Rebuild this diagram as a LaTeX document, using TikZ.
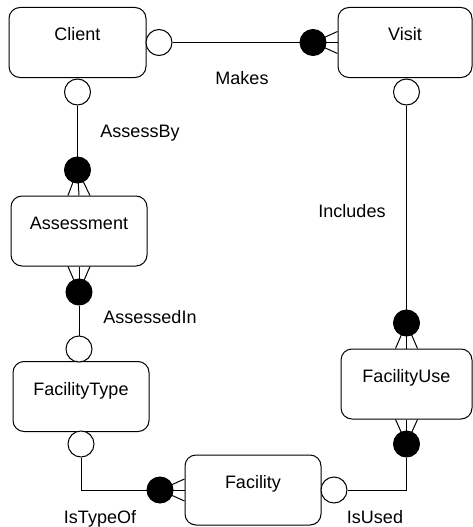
\documentclass[tikz,border=0pt]{standalone}
\usepackage{fontspec}
\setmainfont{Liberation Sans}
\begin{document}
\begin{tikzpicture}[x=1pt,y=-1pt, line width=1pt,
 ent/.style={draw, rounded corners=11pt, minimum width=136pt, inner xsep=0pt, inner ysep=0pt, text height=33.5pt, text depth=36.5pt, font=\fontsize{18}{20}\selectfont, fill=white},
 opn/.style={draw, circle, fill=white, minimum size=26pt, inner sep=0pt},
 fil/.style={draw, circle, fill=black, minimum size=26pt, inner sep=0pt},
 lbl/.style={font=\fontsize{18}{20}\selectfont, anchor=base, inner sep=0pt},
 crow/.style={line width=1pt}]
\useasboundingbox (0,0) rectangle (473,527);
% entities
\node[ent, minimum width=137pt] (client) at (77.5,42.5) {Client};
\node[ent, minimum width=134pt] (visit) at (405,42.5) {Visit};
\node[ent] (assess) at (79,231) {Assessment};
\node[ent] (ftype) at (81,396.5) {FacilityType};
\node[ent] (fac) at (253,490) {Facility};
\node[ent, minimum width=131pt] (fuse) at (406.5,384) {FacilityUse};
% crow's feet (drawn under the filled circles)
\coordinate (c2p) at (313,42.5);
\coordinate (c4p) at (77.5,170);
\coordinate (c5p) at (79,292);
\coordinate (c8p) at (160,490);
\coordinate (c10p) at (406.5,444);
\coordinate (c12p) at (406.5,323);
\foreach \s in {-11,0,11} {
  \draw[crow] (c2p) -- ([yshift=\s pt]visit.west);
  \draw[crow] (c4p) -- ([xshift=\s pt]assess.north);
  \draw[crow] (c5p) -- ([xshift=\s pt]assess.south);
  \draw[crow] (c8p) -- ([yshift=\s pt]fac.west);
  \draw[crow] (c10p) -- ([xshift=\s pt]fuse.south);
  \draw[crow] (c12p) -- ([xshift=\s pt]fuse.north);
}
% circles
\node[opn] (c1) at (159,42.5) {};
\node[fil] (c2) at (c2p) {};
\node[opn] (c3) at (77.5,92) {};
\node[fil] (c4) at (c4p) {};
\node[fil] (c5) at (c5p) {};
\node[opn] (c6) at (79,349) {};
\node[opn] (c7) at (81,444) {};
\node[fil] (c8) at (c8p) {};
\node[opn] (c9) at (334,490) {};
\node[fil] (c10) at (c10p) {};
\node[opn] (c11) at (406.5,92) {};
\node[fil] (c12) at (c12p) {};
% relationships
\draw (c1) -- (c2);
\draw (c3) -- (c4);
\draw (c5) -- (c6);
\draw (c7) |- (c8);
\draw (c9) -| (c10);
\draw (c11) -- (c12);
% labels
\node[lbl] (lmakes) at (242,84.5) {Makes};
\node[lbl] (lassessby) at (140,137.5) {AssessBy};
\node[lbl] (lassessedin) at (150,323.5) {AssessedIn};
\node[lbl] (lincludes) at (352,217.5) {Includes};
\node[lbl] (listypeof) at (100,523) {IsTypeOf};
\node[lbl] (lisused) at (375,523) {IsUsed};
\end{tikzpicture}
\end{document}
